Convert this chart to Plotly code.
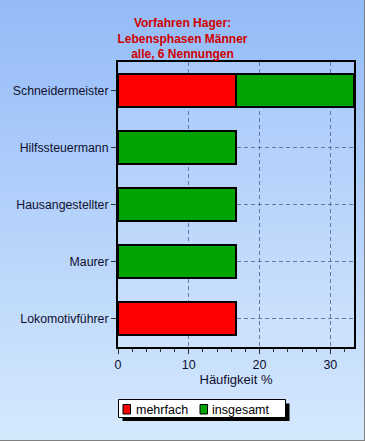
import plotly.graph_objects as go

categories = ["Lokomotivführer", "Maurer", "Hausangestellter", "Hilfssteuermann", "Schneidermeister"]
mehrfach = [16.67, None, None, None, 16.67]
insgesamt = [None, 16.67, 16.67, 16.67, 16.67]
series_names = ["mehrfach", "insgesamt"]
series_colors = ["#ff0000", "#00a400"]
title_lines = ["Vorfahren Hager:", "Lebensphasen Männer", "alle, 6 Nennungen"]
x_ticks = [0, 10, 20, 30]

W, H = 365, 441
L, R, T, B = 118, 11, 62, 94
pw, ph = W - L - R, H - T - B

def px_x(X):
    return (X - L) / pw

def px_y(Y):
    return (H - B - Y) / ph

def lerp(c1, c2, t):
    return "rgb(%d,%d,%d)" % tuple(round(a + (b - a) * t) for a, b in zip(c1, c2))

def prect(x0, y0, x1, y1, **kw):
    return dict(type="rect", xref="paper", yref="paper",
                x0=px_x(x0), x1=px_x(x1), y0=px_y(y1), y1=px_y(y0), **kw)

shapes = []
# page gradient
top_c, bot_c = (147, 187, 248), (214, 233, 253)
n = 60
for i in range(n):
    y0 = i * H / n
    y1 = (i + 1) * H / n + 0.5
    shapes.append(prect(0, y0, W, y1, layer="below",
                        fillcolor=lerp(top_c, bot_c, (i + 0.5) / n), line_width=0))
# plot area gradient
ptop, pbot = (168, 201, 250), (206, 226, 252)
m = 40
for i in range(m):
    y0 = T + i * ph / m
    y1 = min(T + (i + 1) * ph / m + 0.5, T + ph)
    shapes.append(prect(L, y0, L + pw, y1, layer="below",
                        fillcolor=lerp(ptop, pbot, (i + 0.5) / m), line_width=0))
# outer gray border (right and bottom)
shapes.append(dict(type="line", xref="paper", yref="paper", x0=px_x(W - 0.5), x1=px_x(W - 0.5),
                   y0=px_y(H), y1=px_y(0), line=dict(color="#808080", width=1)))
shapes.append(dict(type="line", xref="paper", yref="paper", x0=px_x(0), x1=px_x(W),
                   y0=px_y(H - 0.5), y1=px_y(H - 0.5), line=dict(color="#808080", width=1)))

# custom legend box (shadow + frame + swatches)
LG_X0, LG_Y0, LG_X1, LG_Y1 = 118.5, 399.5, 285.5, 417.5
shapes.append(prect(LG_X0 + 4, LG_Y0 + 4, LG_X1 + 4, LG_Y1 + 3.5, fillcolor="black", line_width=0))
shapes.append(prect(LG_X0, LG_Y0, LG_X1, LG_Y1, fillcolor="white", line=dict(color="black", width=1)))
swatch_x = [123, 200]
text_x = [134, 210]
annotations = []
for sx, tx, name, col in zip(swatch_x, text_x, series_names, series_colors):
    shapes.append(prect(sx, 404.5, sx + 7.5, 414, fillcolor=col, line=dict(color="black", width=1)))
    annotations.append(dict(text=name, xref="paper", yref="paper", x=px_x(tx), y=px_y(409.5),
                            xanchor="left", yanchor="middle", showarrow=False,
                            font=dict(size=12.5, color="#000000")))

fig = go.Figure()
fig.add_trace(go.Bar(y=categories, x=mehrfach, name=series_names[0], orientation="h",
                     marker=dict(color=series_colors[0], line=dict(color="black", width=1.5)), width=0.58))
fig.add_trace(go.Bar(y=categories, x=insgesamt, name=series_names[1], orientation="h",
                     marker=dict(color=series_colors[1], line=dict(color="black", width=1.5)), width=0.58))

font = "Liberation Sans, Arial, sans-serif"
fig.update_layout(
    width=W, height=H, autosize=False,
    margin=dict(l=L, r=R, t=T, b=B, pad=0, autoexpand=False),
    barmode="stack",
    paper_bgcolor="rgb(214,233,253)",
    plot_bgcolor="rgba(0,0,0,0)",
    shapes=shapes,
    annotations=annotations,
    font=dict(family=font, size=12, color="#101030"),
    title=dict(text="<br>".join(title_lines), x=0.5, xref="container", xanchor="center",
               y=1 - 27 / H, yref="container", yanchor="top",
               font=dict(family=font, size=12, color="#d00000", weight="bold")),
    showlegend=False,
    bargap=0.42,
)
fig.update_xaxes(range=[0, 33.34], tickvals=x_ticks, ticks="outside", ticklen=5, tickcolor="#303030",
                 showline=True, linecolor="black", linewidth=2, mirror=True, automargin=False,
                 showgrid=True, gridcolor="#5f7aa8", griddash="4px,3px", gridwidth=1,
                 zeroline=False,
                 minor=dict(dtick=2, ticks="outside", ticklen=3, tickcolor="#303030", showgrid=False),
                 title=dict(text="Häufigkeit %", standoff=4, font=dict(size=13)),
                 tickfont=dict(size=12.5))
fig.update_yaxes(categoryorder="array", categoryarray=categories, automargin=False,
                 ticks="outside", ticklen=5, tickcolor="#303030",
                 showline=True, linecolor="black", linewidth=2, mirror=True,
                 showgrid=True, gridcolor="#5f7aa8", griddash="4px,3px", gridwidth=1,
                 tickfont=dict(size=12.3))

fig.write_html("out.html", config={"displayModeBar": False},
               post_script="document.body.style.margin='0';")
